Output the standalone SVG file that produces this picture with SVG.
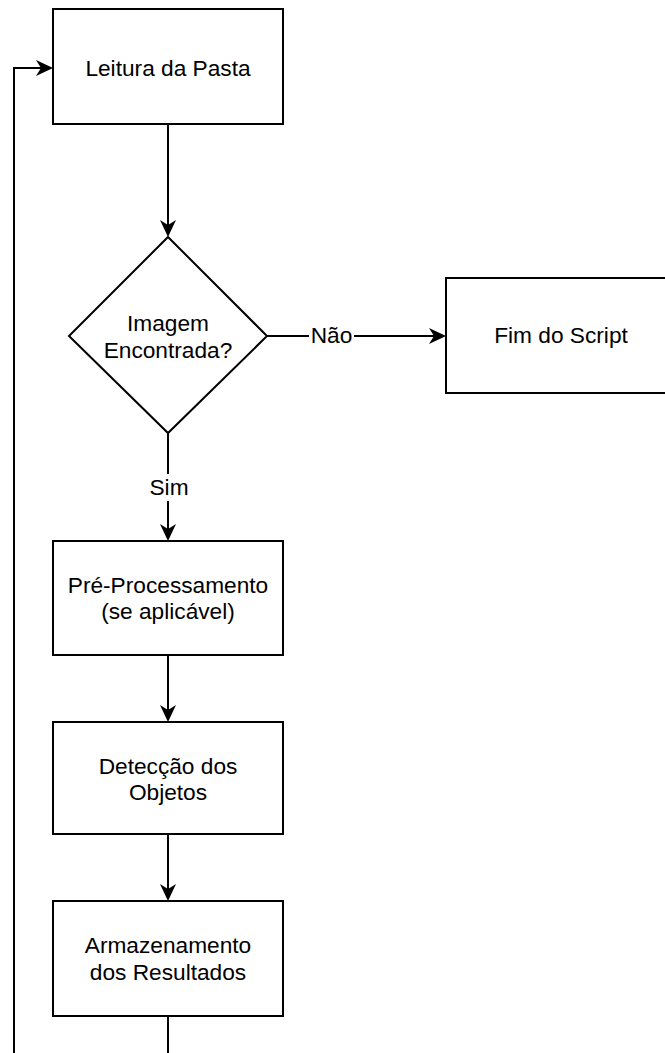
<svg xmlns="http://www.w3.org/2000/svg" width="665" height="1053" viewBox="0 0 665 1053">
<style>
.node{fill:#fff;stroke:#000;stroke-width:2}
.lbl{font-family:"Liberation Sans",Arial,Helvetica,sans-serif;font-size:22.7px;fill:#000;text-anchor:middle}
.edge{fill:none;stroke:#000;stroke-width:2}
</style>
<defs>
<marker id="arr" viewBox="0 0 17 16" refX="7" refY="8" markerWidth="17" markerHeight="16" markerUnits="userSpaceOnUse" orient="auto">
<path d="M17,8 L0,0 L5,8 L0,16 Z" fill="#000"/>
</marker>
</defs>
<rect width="665" height="1053" fill="#fff"/>
<g id="connectors">
<path class="edge" d="M168,124 V227" marker-end="url(#arr)"/>
<path class="edge" d="M267,336 H436" marker-end="url(#arr)"/>
<path class="edge" d="M168,433 V531" marker-end="url(#arr)"/>
<path class="edge" d="M168,655 V712" marker-end="url(#arr)"/>
<path class="edge" d="M168,834 V891" marker-end="url(#arr)"/>
<path class="edge" d="M168,1016 V1070 H14 V68 H43" marker-end="url(#arr)"/>
<rect x="309" y="322" width="45" height="28" fill="#fff"/>
<text class="lbl" x="331.5" y="343">Não</text>
<rect x="148" y="474" width="42" height="27" fill="#fff"/>
<text class="lbl" x="169" y="495">Sim</text>
</g>
<g id="leitura">
<rect class="node" x="53" y="9" width="230" height="115"/>
<text class="lbl" x="168" y="76">Leitura da Pasta</text>
</g>
<g id="decisao">
<path class="node" d="M168,237 L267,336 L168,433 L69,336 Z"/>
<text class="lbl" x="168" y="331">Imagem</text>
<text class="lbl" x="168" y="358">Encontrada?</text>
</g>
<g id="fim">
<rect class="node" x="446" y="278" width="230" height="115"/>
<text class="lbl" x="561" y="343">Fim do Script</text>
</g>
<g id="preprocessamento">
<rect class="node" x="53" y="541" width="230" height="114"/>
<text class="lbl" x="168" y="593">Pré-Processamento</text>
<text class="lbl" x="168" y="619">(se aplicável)</text>
</g>
<g id="deteccao">
<rect class="node" x="53" y="722" width="230" height="112"/>
<text class="lbl" x="168" y="774">Detecção dos</text>
<text class="lbl" x="168" y="800">Objetos</text>
</g>
<g id="armazenamento">
<rect class="node" x="53" y="901" width="230" height="115"/>
<text class="lbl" x="168" y="953">Armazenamento</text>
<text class="lbl" x="168" y="980">dos Resultados</text>
</g>
</svg>
